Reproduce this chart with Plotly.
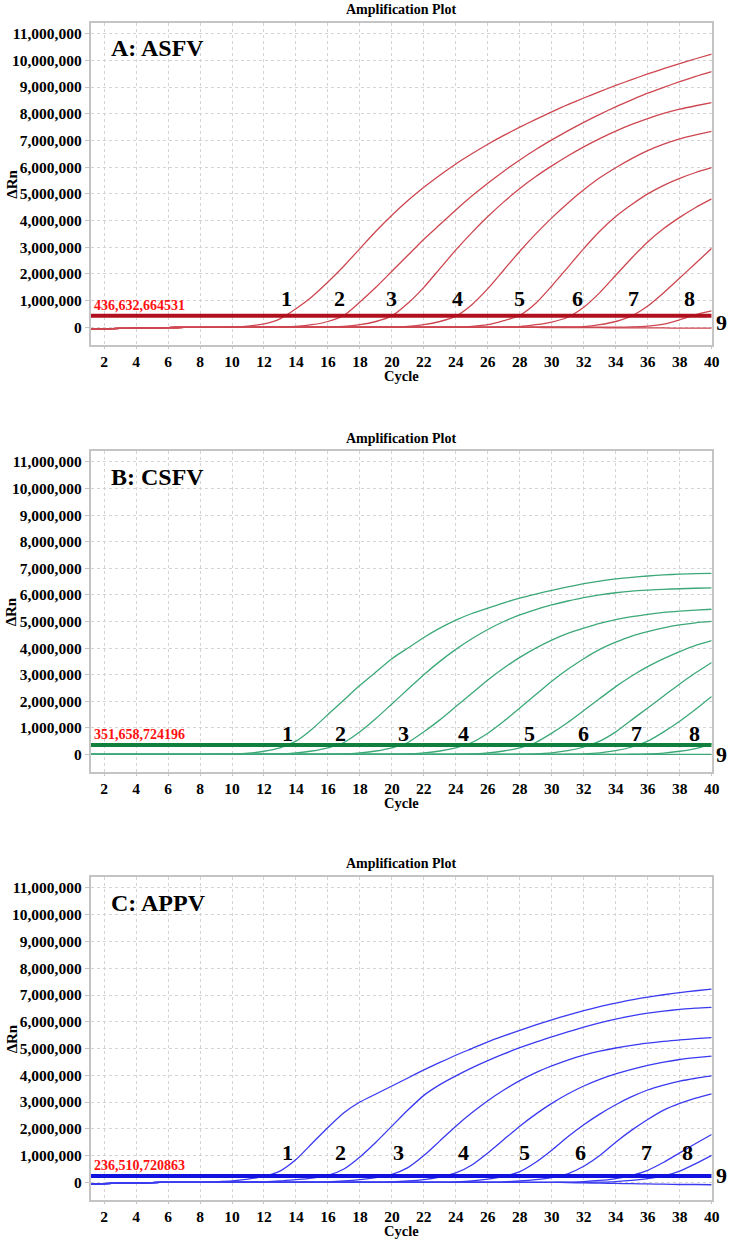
import plotly.graph_objects as go

cycles = list(range(1, 41))

# Delta Rn values (millions) for cycles 1..40
asfv_1 = [-0.08, -0.06, -0.04, -0.03, -0.02, -0.01, 0.00, 0.00, 0.01, 0.02,
          0.05, 0.13, 0.32, 0.70, 1.15, 1.70, 2.30, 2.95, 3.60, 4.20,
          4.75, 5.25, 5.70, 6.12, 6.50, 6.86, 7.19, 7.50, 7.79, 8.07,
          8.34, 8.59, 8.83, 9.06, 9.28, 9.49, 9.69, 9.88, 10.06, 10.23]
asfv_2 = [-0.08, -0.06, -0.04, -0.03, -0.02, -0.01, 0.00, 0.00, 0.00, 0.01,
          0.01, 0.01, 0.02, 0.04, 0.10, 0.22, 0.45, 0.95, 1.50, 2.10,
          2.70, 3.30, 3.85, 4.40, 4.92, 5.40, 5.85, 6.27, 6.66, 7.02,
          7.36, 7.68, 7.98, 8.26, 8.52, 8.77, 8.99, 9.20, 9.40, 9.58]
asfv_3 = [-0.08, -0.06, -0.04, -0.03, -0.02, -0.01, 0.00, 0.00, 0.00, 0.00,
          0.01, 0.01, 0.01, 0.01, 0.01, 0.02, 0.04, 0.10, 0.22, 0.43,
          0.90, 1.50, 2.20, 2.90, 3.55, 4.15, 4.70, 5.20, 5.65, 6.05,
          6.42, 6.76, 7.07, 7.35, 7.60, 7.82, 8.01, 8.17, 8.30, 8.42]
asfv_4 = [-0.08, -0.06, -0.04, -0.03, -0.02, -0.01, 0.00, 0.00, 0.00, 0.00,
          0.00, 0.00, 0.01, 0.01, 0.01, 0.01, 0.01, 0.01, 0.02, 0.02,
          0.04, 0.10, 0.22, 0.42, 0.85, 1.45, 2.15, 2.85, 3.50, 4.10,
          4.65, 5.15, 5.60, 5.98, 6.32, 6.62, 6.86, 7.06, 7.21, 7.34]
asfv_5 = [-0.08, -0.06, -0.04, -0.03, -0.02, -0.01, 0.00, 0.00, 0.00, 0.00,
          0.00, 0.00, 0.00, 0.01, 0.01, 0.01, 0.01, 0.01, 0.01, 0.01,
          0.01, 0.01, 0.02, 0.02, 0.04, 0.10, 0.25, 0.45, 0.90, 1.55,
          2.25, 2.95, 3.60, 4.15, 4.60, 5.00, 5.32, 5.58, 5.80, 5.98]
asfv_6 = [-0.08, -0.06, -0.04, -0.03, -0.02, -0.01, 0.00, 0.00, 0.00, 0.00,
          0.00, 0.00, 0.00, 0.00, 0.00, 0.00, 0.01, 0.01, 0.01, 0.01,
          0.01, 0.01, 0.01, 0.01, 0.01, 0.01, 0.02, 0.03, 0.10, 0.20,
          0.38, 0.75, 1.30, 1.95, 2.60, 3.20, 3.70, 4.12, 4.49, 4.81]
asfv_7 = [-0.08, -0.06, -0.04, -0.03, -0.02, -0.01, 0.00, 0.00, 0.00, 0.00,
          0.00, 0.00, 0.00, 0.00, 0.00, 0.00, 0.00, 0.00, 0.00, 0.00,
          0.00, 0.01, 0.01, 0.01, 0.01, 0.01, 0.01, 0.01, 0.01, 0.02,
          0.02, 0.03, 0.10, 0.22, 0.43, 0.80, 1.30, 1.85, 2.40, 2.96]
asfv_8 = [-0.08, -0.06, -0.04, -0.03, -0.02, -0.01, 0.00, 0.00, 0.00, 0.00,
          0.00, 0.00, 0.00, 0.00, 0.00, 0.00, 0.00, 0.00, 0.00, 0.00,
          0.00, 0.00, 0.00, 0.00, 0.00, 0.00, 0.00, 0.01, 0.01, 0.01,
          0.01, 0.01, 0.01, 0.01, 0.02, 0.05, 0.12, 0.28, 0.48, 0.62]
asfv_9 = [-0.08, -0.06, -0.04, -0.03, -0.02, -0.01, 0.00, 0.00, 0.00, 0.00,
          0.00, 0.00, 0.00, 0.00, 0.00, 0.00, 0.00, 0.00, 0.00, 0.00,
          0.00, 0.00, 0.00, 0.00, 0.00, 0.00, 0.00, 0.00, 0.00, -0.01,
          -0.01, -0.01, -0.01, -0.02, -0.02, -0.02, -0.02, -0.03, -0.03, -0.03]

csfv_1 = [0.00, 0.00, 0.00, 0.00, 0.00, 0.00, 0.00, 0.00, 0.01, 0.02,
          0.05, 0.12, 0.25, 0.50, 0.95, 1.50, 2.05, 2.60, 3.10, 3.60,
          4.00, 4.40, 4.75, 5.05, 5.30, 5.50, 5.70, 5.88, 6.03, 6.17,
          6.30, 6.42, 6.52, 6.60, 6.66, 6.71, 6.75, 6.78, 6.80, 6.81]
csfv_2 = [0.00, 0.00, 0.00, 0.00, 0.00, 0.00, 0.00, 0.00, 0.00, 0.00,
          0.00, 0.01, 0.02, 0.06, 0.13, 0.25, 0.45, 0.85, 1.35, 1.90,
          2.45, 3.00, 3.50, 3.95, 4.35, 4.70, 5.00, 5.25, 5.45, 5.62,
          5.77, 5.90, 6.00, 6.08, 6.14, 6.18, 6.21, 6.23, 6.25, 6.26]
csfv_3 = [0.00, 0.00, 0.00, 0.00, 0.00, 0.00, 0.00, 0.00, 0.00, 0.00,
          0.00, 0.00, 0.00, 0.00, 0.00, 0.01, 0.02, 0.06, 0.13, 0.25,
          0.45, 0.85, 1.30, 1.80, 2.30, 2.80, 3.25, 3.65, 4.00, 4.30,
          4.55, 4.75, 4.93, 5.07, 5.18, 5.27, 5.34, 5.39, 5.43, 5.46]
csfv_4 = [0.00, 0.00, 0.00, 0.00, 0.00, 0.00, 0.00, 0.00, 0.00, 0.00,
          0.00, 0.00, 0.00, 0.00, 0.00, 0.00, 0.00, 0.00, 0.00, 0.01,
          0.02, 0.06, 0.13, 0.25, 0.45, 0.80, 1.25, 1.75, 2.25, 2.75,
          3.20, 3.60, 3.95, 4.22, 4.45, 4.62, 4.76, 4.87, 4.95, 5.00]
csfv_5 = [0.00, 0.00, 0.00, 0.00, 0.00, 0.00, 0.00, 0.00, 0.00, 0.00,
          0.00, 0.00, 0.00, 0.00, 0.00, 0.00, 0.00, 0.00, 0.00, 0.00,
          0.00, 0.00, 0.00, 0.01, 0.02, 0.06, 0.13, 0.25, 0.45, 0.80,
          1.20, 1.65, 2.10, 2.55, 2.95, 3.30, 3.60, 3.87, 4.10, 4.28]
csfv_6 = [0.00, 0.00, 0.00, 0.00, 0.00, 0.00, 0.00, 0.00, 0.00, 0.00,
          0.00, 0.00, 0.00, 0.00, 0.00, 0.00, 0.00, 0.00, 0.00, 0.00,
          0.00, 0.00, 0.00, 0.00, 0.00, 0.00, 0.00, 0.01, 0.02, 0.06,
          0.14, 0.28, 0.50, 0.85, 1.30, 1.75, 2.20, 2.65, 3.07, 3.46]
csfv_7 = [0.00, 0.00, 0.00, 0.00, 0.00, 0.00, 0.00, 0.00, 0.00, 0.00,
          0.00, 0.00, 0.00, 0.00, 0.00, 0.00, 0.00, 0.00, 0.00, 0.00,
          0.00, 0.00, 0.00, 0.00, 0.00, 0.00, 0.00, 0.00, 0.00, 0.00,
          0.01, 0.02, 0.06, 0.14, 0.28, 0.50, 0.85, 1.25, 1.70, 2.18]
csfv_8 = [0.00, 0.00, 0.00, 0.00, 0.00, 0.00, 0.00, 0.00, 0.00, 0.00,
          0.00, 0.00, 0.00, 0.00, 0.00, 0.00, 0.00, 0.00, 0.00, 0.00,
          0.00, 0.00, 0.00, 0.00, 0.00, 0.00, 0.00, 0.00, 0.00, 0.00,
          0.00, 0.00, 0.00, 0.00, 0.01, 0.02, 0.05, 0.12, 0.22, 0.40]
csfv_9 = [0.00, 0.00, 0.00, 0.00, 0.00, 0.00, 0.00, 0.00, 0.00, 0.00,
          0.00, 0.00, 0.00, 0.00, 0.00, 0.00, 0.00, 0.00, 0.00, 0.00,
          0.00, 0.00, 0.00, 0.00, 0.00, 0.00, 0.00, 0.00, 0.00, 0.00,
          0.00, 0.00, 0.00, 0.00, 0.00, 0.00, 0.00, 0.00, 0.00, 0.00]

appv_1 = [-0.06, -0.05, -0.03, -0.02, -0.01, 0.00, 0.00, 0.00, 0.02, 0.05,
          0.12, 0.22, 0.42, 0.85, 1.45, 2.05, 2.60, 3.00, 3.30, 3.60,
          3.90, 4.20, 4.48, 4.75, 5.00, 5.25, 5.47, 5.68, 5.88, 6.07,
          6.25, 6.42, 6.57, 6.70, 6.82, 6.92, 7.01, 7.09, 7.16, 7.22]
appv_2 = [-0.06, -0.05, -0.03, -0.02, -0.01, 0.00, 0.00, 0.00, 0.00, 0.00,
          0.01, 0.02, 0.05, 0.10, 0.16, 0.26, 0.50, 0.95, 1.50, 2.10,
          2.70, 3.25, 3.65, 3.98, 4.28, 4.55, 4.80, 5.03, 5.24, 5.44,
          5.62, 5.80, 5.96, 6.10, 6.22, 6.32, 6.40, 6.46, 6.51, 6.54]
appv_3 = [-0.06, -0.05, -0.03, -0.02, -0.01, 0.00, 0.00, 0.00, 0.00, 0.00,
          0.00, 0.00, 0.00, 0.00, 0.01, 0.02, 0.05, 0.10, 0.18, 0.30,
          0.55, 1.00, 1.55, 2.10, 2.60, 3.05, 3.45, 3.80, 4.10, 4.35,
          4.57, 4.75, 4.90, 5.02, 5.12, 5.20, 5.27, 5.32, 5.37, 5.41]
appv_4 = [-0.06, -0.05, -0.03, -0.02, -0.01, 0.00, 0.00, 0.00, 0.00, 0.00,
          0.00, 0.00, 0.00, 0.00, 0.00, 0.00, 0.00, 0.01, 0.01, 0.02,
          0.05, 0.10, 0.20, 0.35, 0.65, 1.10, 1.60, 2.10, 2.55, 2.95,
          3.30, 3.60, 3.85, 4.05, 4.22, 4.37, 4.49, 4.59, 4.66, 4.72]
appv_5 = [-0.06, -0.05, -0.03, -0.02, -0.01, 0.00, 0.00, 0.00, 0.00, 0.00,
          0.00, 0.00, 0.00, 0.00, 0.00, 0.00, 0.00, 0.00, 0.00, 0.00,
          0.00, 0.01, 0.01, 0.02, 0.05, 0.12, 0.22, 0.40, 0.75, 1.20,
          1.70, 2.15, 2.55, 2.90, 3.20, 3.45, 3.63, 3.78, 3.89, 3.98]
appv_6 = [-0.06, -0.05, -0.03, -0.02, -0.01, 0.00, 0.00, 0.00, 0.00, 0.00,
          0.00, 0.00, 0.00, 0.00, 0.00, 0.00, 0.00, 0.00, 0.00, 0.00,
          0.00, 0.00, 0.00, 0.00, 0.01, 0.01, 0.02, 0.05, 0.10, 0.18,
          0.32, 0.60, 1.00, 1.50, 1.95, 2.35, 2.70, 2.95, 3.15, 3.31]
appv_7 = [-0.06, -0.05, -0.03, -0.02, -0.01, 0.00, 0.00, 0.00, 0.00, 0.00,
          0.00, 0.00, 0.00, 0.00, 0.00, 0.00, 0.00, 0.00, 0.00, 0.00,
          0.00, 0.00, 0.00, 0.00, 0.00, 0.00, 0.00, 0.00, 0.00, 0.00,
          0.01, 0.03, 0.07, 0.14, 0.26, 0.45, 0.75, 1.10, 1.45, 1.79]
appv_8 = [-0.06, -0.05, -0.03, -0.02, -0.01, 0.00, 0.00, 0.00, 0.00, 0.00,
          0.00, 0.00, 0.00, 0.00, 0.00, 0.00, 0.00, 0.00, 0.00, 0.00,
          0.00, 0.00, 0.00, 0.00, 0.00, 0.00, 0.00, 0.00, 0.00, 0.00,
          0.00, 0.00, 0.01, 0.03, 0.07, 0.14, 0.24, 0.42, 0.70, 1.01]
appv_9 = [-0.06, -0.05, -0.03, -0.02, -0.01, 0.00, 0.00, 0.00, 0.00, 0.00,
          0.00, 0.00, 0.00, 0.00, 0.00, 0.00, 0.00, 0.00, 0.00, 0.00,
          0.00, 0.00, 0.00, 0.00, 0.00, 0.00, 0.00, 0.00, 0.00, 0.00,
          -0.01, -0.02, -0.03, -0.04, -0.05, -0.06, -0.07, -0.08, -0.08, -0.09]

asfv_curves = [asfv_1, asfv_2, asfv_3, asfv_4, asfv_5, asfv_6, asfv_7, asfv_8, asfv_9]
csfv_curves = [csfv_1, csfv_2, csfv_3, csfv_4, csfv_5, csfv_6, csfv_7, csfv_8, csfv_9]
appv_curves = [appv_1, appv_2, appv_3, appv_4, appv_5, appv_6, appv_7, appv_8, appv_9]

thresholds = [436632.664531, 351658.724196, 236510.720863]
threshold_texts = ["436,632,664531", "351,658,724196", "236,510,720863"]
panel_names = ["A: ASFV", "B: CSFV", "C: APPV"]
curve_names = ["1", "2", "3", "4", "5", "6", "7", "8"]
asfv_label_x = [13.4, 16.7, 20.0, 24.1, 28.0, 31.6, 35.1, 38.6]
csfv_label_x = [13.5, 16.8, 20.75, 24.5, 28.6, 32.0, 35.3, 38.9]
appv_label_x = [13.5, 16.8, 20.4, 24.5, 28.3, 31.8, 35.9, 38.5]
label_y = [1.1, 0.8, 1.1]
nine_y = [0.2, -0.02, 0.25]
y_ticks = [0, 1, 2, 3, 4, 5, 6, 7, 8, 9, 10, 11]
x_ticks = list(range(2, 41, 2))

curve_colors = ["#CD4650", "#3CA878", "#3A3AF0"]
thr_colors = ["#B0101E", "#11803E", "#1212E0"]

W, H = 735, 1239
x_left, x_right = 91.5, 719.5
panel_px = [(22.7, 345), (451, 772), (877, 1200)]
y_rng = [-0.66e6, 11.41e6]

SERIF = "Liberation Serif"

fig = go.Figure()
panels = [asfv_curves, csfv_curves, appv_curves]
label_xs = [asfv_label_x, csfv_label_x, appv_label_x]
annotations = []

for i, curves in enumerate(panels):
    sfx = "" if i == 0 else str(i + 1)
    xa, ya = "x" + sfx, "y" + sfx
    for vals in curves:
        fig.add_trace(go.Scatter(
            x=cycles, y=[v * 1e6 for v in vals], mode="lines",
            line=dict(color=curve_colors[i], width=1.3, shape="spline", smoothing=0.6),
            xaxis=xa, yaxis=ya, showlegend=False, hoverinfo="skip"))
    fig.add_trace(go.Scatter(
        x=[1, 40], y=[thresholds[i], thresholds[i]], mode="lines",
        line=dict(color=thr_colors[i], width=4),
        xaxis=xa, yaxis=ya, showlegend=False, hoverinfo="skip"))

    top, bot = panel_px[i]
    dom = [1 - bot / H, 1 - top / H]
    common = dict(
        tickfont=dict(family=SERIF, size=15.5, color="black", weight="bold"),
        showgrid=True, gridcolor="#d4d4d4", griddash="dot", gridwidth=1,
        showline=True, linecolor="#c4c4c4", linewidth=1.5, mirror=True,
        ticks="outside", tickcolor="#c4c4c4", zeroline=False)
    fig.layout["xaxis" + sfx] = dict(
        domain=[x_left / W, x_right / W], range=[1.15, 40], anchor=ya, ticklen=2,
        tickmode="array", tickvals=x_ticks, **common)
    fig.layout["yaxis" + sfx] = dict(
        domain=dom, range=y_rng, anchor=xa, ticklen=4,
        tickmode="array", tickvals=[v * 1e6 for v in y_ticks], tickformat=",d", **common)

    xc = (x_left + x_right) / 2 / W
    annotations.append(dict(text="<b>Amplification Plot</b>", xref="paper", yref="paper",
                            x=xc, y=1 - (top - 13) / H, xanchor="center", yanchor="middle",
                            showarrow=False, font=dict(family=SERIF, size=14, color="black")))
    annotations.append(dict(text="<b>Cycle</b>", xref="paper", yref="paper",
                            x=xc, y=1 - (bot + 31) / H, xanchor="center", yanchor="middle",
                            showarrow=False, font=dict(family=SERIF, size=14.5, color="black")))
    annotations.append(dict(text="<b>ΔRn</b>", xref="paper", yref="paper", textangle=-90,
                            x=12 / W, y=1 - (top + bot) / 2 / H, xanchor="center", yanchor="middle",
                            showarrow=False, font=dict(family=SERIF, size=15, color="black")))
    annotations.append(dict(text="<b>" + panel_names[i] + "</b>", xref="paper", yref=ya,
                            x=110 / W, y=10.45e6, xanchor="left", yanchor="middle",
                            showarrow=False, font=dict(family=SERIF, size=24, color="black")))
    annotations.append(dict(text="<b>" + threshold_texts[i] + "</b>", xref="paper", yref=ya,
                            x=(x_left + 2) / W, y=thresholds[i], xanchor="left", yanchor="bottom",
                            yshift=1, showarrow=False,
                            font=dict(family=SERIF, size=14, color="#FF1010")))
    for name, lx in zip(curve_names, label_xs[i]):
        annotations.append(dict(text="<b>" + name + "</b>", xref=xa, yref=ya,
                                x=lx, y=label_y[i] * 1e6, xanchor="center", yanchor="middle",
                                showarrow=False, font=dict(family=SERIF, size=22, color="black")))
    annotations.append(dict(text="<b>9</b>", xref="paper", yref=ya,
                            x=(x_right + 2) / W, y=nine_y[i] * 1e6, xanchor="left", yanchor="middle",
                            showarrow=False, font=dict(family=SERIF, size=22, color="black")))

fig.update_layout(width=W, height=H, margin=dict(l=0, r=0, t=0, b=0),
                  paper_bgcolor="white", plot_bgcolor="white",
                  annotations=annotations, showlegend=False)

fig.write_html("out.html", config={"displayModeBar": False},
               post_script="document.body.style.margin='0px';")
